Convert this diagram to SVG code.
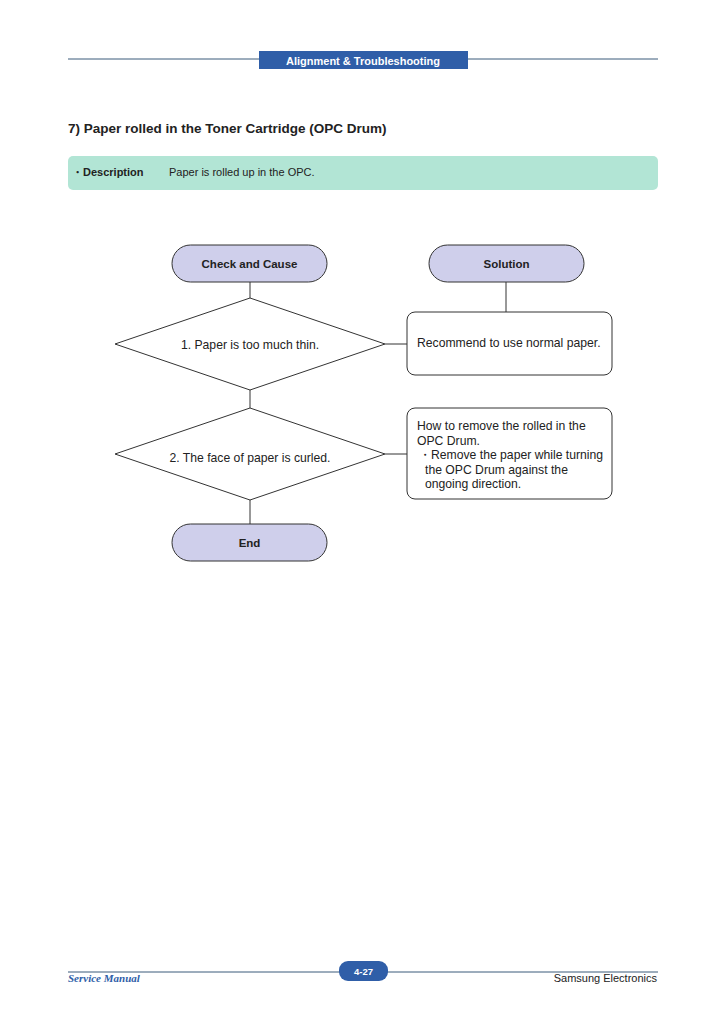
<svg xmlns="http://www.w3.org/2000/svg" width="728" height="1031" viewBox="0 0 728 1031">
<style>
text{font-family:"Liberation Sans",Arial,sans-serif;fill:#222}
.pill{fill:#cfcfeb;stroke:#333;stroke-width:1}
.box{fill:#fff;stroke:#333;stroke-width:1}
.lbl{font-size:11.5px;font-weight:bold;text-anchor:middle}
.t{font-size:12.2px}
.conn line{stroke:#333;stroke-width:1}
</style>
<rect width="728" height="1031" fill="#fff"/>
<g id="header">
<line x1="68" y1="59" x2="658" y2="59" stroke="#3a5a7a" stroke-width="1"/>
<rect x="259" y="51" width="209" height="18" fill="#2f5ea8"/>
<text x="363" y="65" font-size="11" font-weight="bold" text-anchor="middle" style="fill:#fff">Alignment &amp; Troubleshooting</text>
</g>
<text x="68" y="133" font-size="13.5" font-weight="bold">7)  Paper rolled in the Toner Cartridge (OPC Drum)</text>
<g id="description">
<rect x="68" y="156" width="590" height="34" rx="5" fill="#b2e5d5"/>
<text x="72" y="176" font-size="11" font-weight="bold">・Description</text>
<text x="169" y="176" font-size="11">Paper is rolled up in the OPC.</text>
</g>
<g class="conn" id="connectors">
<line x1="250" y1="282" x2="250" y2="298"/>
<line x1="506" y1="282" x2="506" y2="312"/>
<line x1="385" y1="344" x2="407" y2="344"/>
<line x1="250" y1="390" x2="250" y2="408"/>
<line x1="385" y1="454" x2="407" y2="454"/>
<line x1="250" y1="500" x2="250" y2="524"/>
</g>
<g id="check">
<rect class="pill" x="172" y="245" width="155" height="37" rx="18.5"/>
<text class="lbl" x="249.5" y="268">Check and Cause</text>
</g>
<g id="solution">
<rect class="pill" x="429" y="245" width="155" height="37" rx="18.5"/>
<text class="lbl" x="506.5" y="268">Solution</text>
</g>
<g id="d1">
<polygon class="box" points="250,298 385,344 250,390 115,344"/>
<text class="t" x="250" y="349" text-anchor="middle">1. Paper is too much thin.</text>
</g>
<g id="s1">
<rect class="box" x="407" y="312" width="205" height="63" rx="8"/>
<text class="t" x="417" y="347">Recommend to use normal paper.</text>
</g>
<g id="d2">
<polygon class="box" points="250,408 385,454 250,500 115,454"/>
<text class="t" x="250" y="462" text-anchor="middle">2. The face of paper is curled.</text>
</g>
<g id="s2">
<rect class="box" x="407" y="408" width="205" height="91" rx="8"/>
<text class="t" x="417" y="430">How to remove the rolled in the</text>
<text class="t" x="417" y="444.5">OPC Drum.</text>
<text class="t" x="419" y="459">・Remove the paper while turning</text>
<text class="t" x="425" y="473.5">the OPC Drum against the</text>
<text class="t" x="425" y="488">ongoing direction.</text>
</g>
<g id="end">
<rect class="pill" x="172" y="524" width="155" height="37" rx="18.5"/>
<text class="lbl" x="249.5" y="547">End</text>
</g>
<g id="footer">
<line x1="68" y1="972" x2="658" y2="972" stroke="#3a5a7a" stroke-width="1"/>
<rect x="339" y="961" width="49" height="20" rx="9" fill="#2f5ea8"/>
<text x="363.5" y="975" font-size="9.5" font-weight="bold" text-anchor="middle" style="fill:#fff">4-27</text>
<text x="68" y="982" font-size="11" font-style="italic" font-weight="bold" style="font-family:'Liberation Serif',serif;fill:#2f5ea8">Service Manual</text>
<text x="657" y="982" font-size="11" text-anchor="end">Samsung Electronics</text>
</g>
</svg>
